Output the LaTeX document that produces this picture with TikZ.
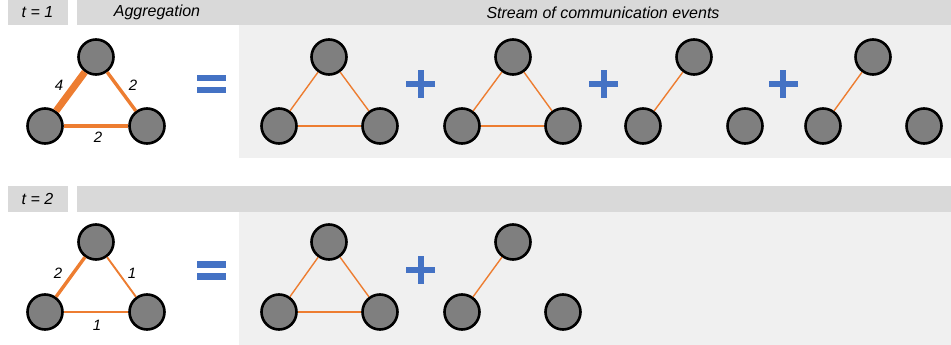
\documentclass[tikz,border=0pt]{standalone}
\usepackage{fontspec}
\setmainfont{Liberation Sans}
\definecolor{hdr}{HTML}{D9D9D9}
\definecolor{pnl}{HTML}{F0F0F0}
\definecolor{nd}{HTML}{7F7F7F}
\definecolor{org}{HTML}{ED7D31}
\definecolor{blu}{HTML}{4472C4}
\tikzset{
  vtx/.style={circle,draw=black,fill=nd,line width=2.6pt,minimum size=35pt,inner sep=0pt},
  htext/.style={font=\fontsize{16}{18}\selectfont\itshape,inner sep=0pt},
  wlabel/.style={font=\fontsize{15}{17}\selectfont\itshape,inner sep=0pt},
  ethin/.style={draw=org,line width=1.4pt},
  ethin2/.style={draw=org,line width=1.9pt},
  emid/.style={draw=org,line width=3.4pt},
  ethick/.style={draw=org,line width=7pt},
}
\newcommand{\plusat}[2]{\fill[blu] (#1-14.5,#2-3) rectangle (#1+14.5,#2+3);
  \fill[blu] (#1-3,#2-14) rectangle (#1+3,#2+14);}
\newcommand{\eqat}[2]{\fill[blu] (#1-14.5,#2-9.3) rectangle (#1+14.5,#2-2.8);
  \fill[blu] (#1-14.5,#2+2.8) rectangle (#1+14.5,#2+9.3);}
\begin{document}
\begin{tikzpicture}[x=1pt,y=-1pt]
\useasboundingbox (0,0) rectangle (951,345);
% headers and panels
\fill[hdr] (8,0) rectangle (68,25);
\fill[hdr] (77,0) rectangle (951,25);
\fill[pnl] (239,25) rectangle (951,158);
\fill[hdr] (8,186) rectangle (68,212);
\fill[hdr] (77,186) rectangle (951,212);
\fill[pnl] (239,212) rectangle (951,345);
\node[htext] (t1) at (37.5,12.5) {t = 1};
\node[htext] (agg) at (157,12.5) {Aggregation};
\node[htext] (str) at (603,12.5) {Stream of communication events};
\node[htext] (t2) at (37.5,199) {t = 2};

% ---- row 1 aggregate
\node[vtx] (a1t) at (96,57) {};
\node[vtx] (a1l) at (45,126) {};
\node[vtx] (a1r) at (147,126) {};
\draw[ethick] (a1l) -- (a1t);
\draw[emid] (a1t) -- (a1r);
\draw[emid] (a1l) -- (a1r);
\node[wlabel] (l14) at (59,85) {4};
\node[wlabel] (l12a) at (133,85) {2};
\node[wlabel] (l12b) at (98,137.5) {2};
\eqat{211.5}{84}

% row 1 stream
\node[vtx] (s1t) at (329,57) {};
\node[vtx] (s1l) at (279,126) {};
\node[vtx] (s1r) at (380,126) {};
\draw[ethin] (s1l) -- (s1t);
\draw[ethin] (s1t) -- (s1r);
\draw[ethin] (s1l) -- (s1r);
\plusat{420.5}{84}
\node[vtx] (s2t) at (513,57) {};
\node[vtx] (s2l) at (462,126) {};
\node[vtx] (s2r) at (563,126) {};
\draw[ethin] (s2l) -- (s2t);
\draw[ethin] (s2t) -- (s2r);
\draw[ethin] (s2l) -- (s2r);
\plusat{603.5}{84}
\node[vtx] (s3t) at (694,57) {};
\node[vtx] (s3l) at (643,126) {};
\node[vtx] (s3r) at (745,126) {};
\draw[ethin] (s3l) -- (s3t);
\plusat{783}{84}
\node[vtx] (s4t) at (873,57) {};
\node[vtx] (s4l) at (823,126) {};
\node[vtx] (s4r) at (924,126) {};
\draw[ethin] (s4l) -- (s4t);

% ---- row 2 aggregate
\node[vtx] (b1t) at (96,242) {};
\node[vtx] (b1l) at (45,312) {};
\node[vtx] (b1r) at (147,312) {};
\draw[emid] (b1l) -- (b1t);
\draw[ethin2] (b1t) -- (b1r);
\draw[ethin2] (b1l) -- (b1r);
\node[wlabel] (l22) at (58,273) {2};
\node[wlabel] (l21a) at (132,273) {1};
\node[wlabel] (l21b) at (97,325) {1};
\eqat{211.5}{270.5}

% row 2 stream
\node[vtx] (u1t) at (329,242) {};
\node[vtx] (u1l) at (279,312) {};
\node[vtx] (u1r) at (380,312) {};
\draw[ethin] (u1l) -- (u1t);
\draw[ethin] (u1t) -- (u1r);
\draw[ethin] (u1l) -- (u1r);
\plusat{420.5}{270}
\node[vtx] (u2t) at (513,242) {};
\node[vtx] (u2l) at (462,312) {};
\node[vtx] (u2r) at (563,312) {};
\draw[ethin] (u2l) -- (u2t);
\end{tikzpicture}
\end{document}
